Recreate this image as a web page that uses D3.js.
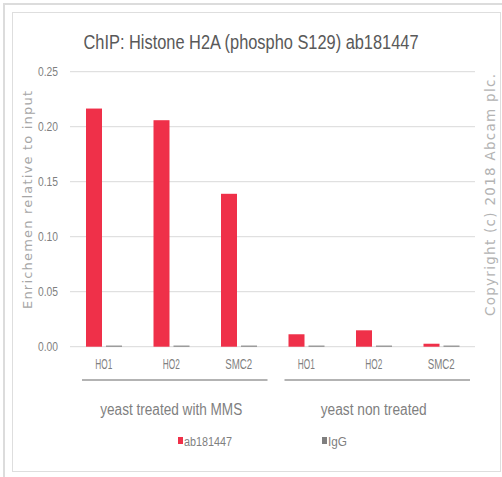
<!DOCTYPE html>
<html>
<head>
<meta charset="utf-8">
<script src="https://cdn.jsdelivr.net/npm/d3@7"></script>
<style>
  html, body { margin: 0; padding: 0; background: #fff; }
  svg { display: block; }
  text { font-family: "Liberation Sans", "DejaVu Sans", sans-serif; }
</style>
</head>
<body>
<svg id="chart" width="502" height="477"></svg>
<script>
// Chart data
const categories = ["HO1", "HO2", "SMC2", "HO1", "HO2", "SMC2"];
const groups = ["yeast treated with MMS", "yeast non treated"];
const seriesNames = ["ab181447", "IgG"];
const abValues = [0.2165, 0.2059, 0.139, 0.0113, 0.0149, 0.0027];
const iggValues = [0.001, 0.001, 0.001, 0.001, 0.001, 0.001];
const yTicks = [0, 0.05, 0.10, 0.15, 0.20, 0.25];
const colors = { "ab181447": "#ef3049", "IgG": "#7f7f7f" };

const svg = d3.select("#chart");

// Fit a label to a given width (the chart font is a narrow face)
function fit(sel, w, mode) {
  return sel.attr("textLength", w).attr("lengthAdjust", mode || "spacingAndGlyphs");
}

// Frame
svg.append("rect").attr("x", 3).attr("y", 3).attr("width", 499).attr("height", 2).attr("fill", "#dcdcdc");
svg.append("rect").attr("x", 3).attr("y", 3).attr("width", 2).attr("height", 474).attr("fill", "#dcdcdc");
svg.append("rect").attr("x", 12.5).attr("y", 12.5).attr("width", 488).attr("height", 459)
  .attr("fill", "#fff").attr("stroke", "#dedede").attr("stroke-width", 1);

const plotLeft = 70, plotRight = 475, plotTop = 71.7, plotBottom = 346.7;

const x = d3.scaleBand().domain(d3.range(categories.length)).range([plotLeft, plotRight]).paddingInner(0).paddingOuter(0);
const xSub = d3.scaleBand().domain(seriesNames).range([16, 52]).paddingInner(0.2);
const y = d3.scaleLinear().domain([0, 0.25]).range([plotBottom, plotTop]);

// Gridlines
svg.append("g").selectAll("line").data(yTicks).join("line")
  .attr("x1", plotLeft).attr("x2", plotRight)
  .attr("y1", d => y(d)).attr("y2", d => y(d))
  .attr("stroke", "#d9d9d9").attr("stroke-width", 1);

// Y tick labels
svg.append("g").selectAll("text").data(yTicks).join("text")
  .attr("x", 58).attr("y", d => y(d)).attr("dy", "0.35em")
  .attr("text-anchor", "end").attr("font-size", 12).attr("fill", "#7f7f7f")
  .text(d => d3.format(".2f")(d))
  .call(fit, 20);

// Bars
const rows = categories.map((c, i) => ({ i, values: [
  { key: "ab181447", v: abValues[i] },
  { key: "IgG", v: iggValues[i] }
]}));

const g = svg.append("g").selectAll("g").data(rows).join("g")
  .attr("transform", d => `translate(${x(d.i)},0)`);
g.selectAll("rect").data(d => d.values).join("rect")
  .attr("x", d => xSub(d.key))
  .attr("width", xSub.bandwidth())
  .attr("y", d => y(d.v))
  .attr("height", d => y(0) - y(d.v))
  .attr("fill", d => colors[d.key]);

// Category labels
svg.append("g").selectAll("text").data(categories).join("text")
  .attr("x", (d, i) => x(i) + x.bandwidth() / 2).attr("y", 369)
  .attr("text-anchor", "middle").attr("font-size", 14).attr("fill", "#7f7f7f")
  .text(d => d)
  .each(function (d) { fit(d3.select(this), d.length === 4 ? 27 : 17); });

// Group brackets and labels
const groupSpans = [[0, 2], [3, 5]];
const groupWidths = [142, 106];
groupSpans.forEach((s, gi) => {
  const x0 = x(s[0]) + 12, x1 = x(s[1]) + x.bandwidth() - 5;
  svg.append("line").attr("x1", x0).attr("x2", x1).attr("y1", 380).attr("y2", 380)
    .attr("stroke", "#9a9a9a").attr("stroke-width", 1.5);
  svg.append("text").attr("x", (x(s[0]) + x(s[1]) + x.bandwidth()) / 2).attr("y", 415)
    .attr("text-anchor", "middle").attr("font-size", 16).attr("fill", "#7f7f7f")
    .text(groups[gi])
    .call(fit, groupWidths[gi]);
});

// Title
svg.append("text").attr("x", 251).attr("y", 49).attr("text-anchor", "middle")
  .attr("font-size", 19.5).attr("fill", "#595959")
  .text("ChIP: Histone H2A (phospho S129) ab181447")
  .call(fit, 335);

// Y axis title
svg.append("text").attr("transform", "translate(32,200) rotate(-90)")
  .attr("text-anchor", "middle").attr("font-size", 13).attr("fill", "#a6a6a6")
  .style("font-family", "'DejaVu Sans', sans-serif")
  .text("Enrichemen relative to input")
  .call(fit, 218, "spacing");

// Copyright
svg.append("text").attr("transform", "translate(495,195) rotate(-90)")
  .attr("text-anchor", "middle").attr("font-size", 13.5).attr("fill", "#b3b3b3")
  .style("font-family", "'DejaVu Sans', sans-serif")
  .text("Copyright (c) 2018 Abcam plc.")
  .call(fit, 242, "spacing");

// Legend
const legendItems = [{ key: "ab181447", x: 178, w: 48 }, { key: "IgG", x: 322, w: 19 }];
legendItems.forEach(d => {
  svg.append("rect").attr("x", d.x).attr("y", 437).attr("width", 5).attr("height", 7).attr("fill", colors[d.key]);
  svg.append("text").attr("x", d.x + 6).attr("y", 446).attr("font-size", 12.5).attr("fill", "#7f7f7f")
    .text(d.key).call(fit, d.w);
});
</script>
</body>
</html>
